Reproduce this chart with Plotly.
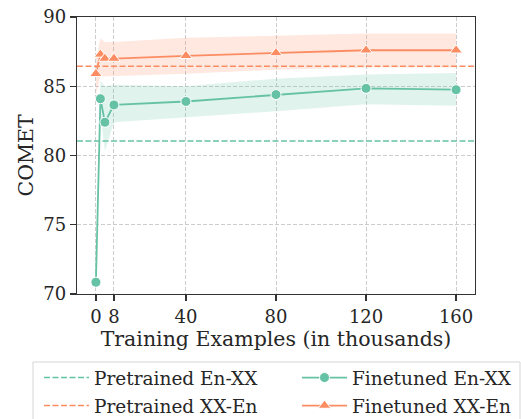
import plotly.graph_objects as go

# ---- data ----
train_k = [0, 2, 4, 8, 40, 80, 120, 160]
x_ticks = [0, 8, 40, 80, 120, 160]
y_ticks = [70, 75, 80, 85, 90]

en_xx_mean = [70.85, 84.1, 82.4, 83.65, 83.9, 84.4, 84.85, 84.75]
en_xx_lo = [70.6, 83.0, 80.3, 82.4, 82.75, 83.2, 83.7, 83.6]
en_xx_hi = [71.1, 85.4, 85.0, 85.1, 85.0, 85.55, 85.85, 85.95]

xx_en_mean = [85.9, 87.3, 87.0, 87.0, 87.2, 87.4, 87.6, 87.6]
xx_en_lo = [84.4, 85.7, 85.7, 85.75, 85.9, 86.2, 86.35, 86.35]
xx_en_hi = [87.0, 88.45, 88.2, 88.2, 88.5, 88.65, 88.8, 88.8]

pre_en_xx = 81.05
pre_xx_en = 86.45

GREEN = "#66c2a5"
ORANGE = "#fc8d62"
FONT = "DejaVu Serif"
TXT = "#262626"

fig = go.Figure()

# confidence bands
for lo, hi, col in [(en_xx_lo, en_xx_hi, "rgba(102,194,165,0.2)"),
                    (xx_en_lo, xx_en_hi, "rgba(252,141,98,0.2)")]:
    fig.add_trace(go.Scatter(
        x=train_k + train_k[::-1], y=hi + lo[::-1],
        fill="toself", fillcolor=col, line=dict(width=0),
        mode="lines", showlegend=False, hoverinfo="skip"))

fig.add_trace(go.Scatter(
    x=train_k, y=en_xx_mean, name="Finetuned En-XX", mode="lines+markers",
    line=dict(color=GREEN, width=1.8),
    marker=dict(symbol="circle", size=10, color=GREEN, line=dict(color="white", width=1)),
    legend="legend2"))
fig.add_trace(go.Scatter(
    x=train_k, y=xx_en_mean, name="Finetuned XX-En", mode="lines+markers",
    line=dict(color=ORANGE, width=1.8),
    marker=dict(symbol="triangle-up", size=11, color=ORANGE, line=dict(color="white", width=1)),
    legend="legend4"))

# pretrained horizontal lines (shapes spanning axes domain)
for val, col, nm, lg in [(pre_en_xx, GREEN, "Pretrained En-XX", "legend"),
                         (pre_xx_en, ORANGE, "Pretrained XX-En", "legend3")]:
    fig.add_shape(type="line", xref="x domain", yref="y", x0=0, x1=1, y0=val, y1=val,
                  line=dict(color=col, width=1.5, dash="6px,2.5px"),
                  showlegend=True, name=nm, legend=lg)

# legend frame
fig.add_shape(type="rect", xref="paper", yref="paper",
              x0=(33 - 77) / 398, x1=(520 - 77) / 398,
              y0=(294 - 362) / 277, y1=(294 - 430) / 277,
              line=dict(color="#d5d5d5", width=1), fillcolor="white", layer="above")

def leg(xpx, ypx):
    return dict(x=(xpx - 77) / 398, y=(294 - ypx) / 277, xanchor="left", yanchor="middle",
                bgcolor="rgba(0,0,0,0)", borderwidth=0, itemwidth=45,
                font=dict(family=FONT, size=18.5, color=TXT))

axis_common = dict(
    showline=True, mirror=True, linecolor="#333333", linewidth=1.25,
    ticks="outside", ticklen=6, tickwidth=1.25, tickcolor="#333333",
    showgrid=True, gridcolor="#cccccc", gridwidth=1, griddash="4px,2px",
    zeroline=False,
    tickfont=dict(family=FONT, size=18, color=TXT),
)

fig.update_layout(
    width=521, height=419,
    margin=dict(l=77, r=46, t=17, b=125, autoexpand=False),
    paper_bgcolor="white", plot_bgcolor="white",
    font=dict(family=FONT, size=18, color=TXT),
    xaxis=dict(range=[-8.4, 168.4], tickvals=x_ticks, **axis_common,
               title=dict(text="Training Examples (in thousands)", standoff=0,
                          font=dict(family=FONT, size=20.5, color=TXT))),
    yaxis=dict(range=[70, 90], tickvals=y_ticks, **axis_common,
               title=dict(text="COMET", standoff=4,
                          font=dict(family=FONT, size=20.5, color=TXT))),
    legend=leg(39, 378),
    legend3=leg(39, 406),
    legend2=leg(297, 378),
    legend4=leg(297, 406),
)

fig.write_html(
    "out.html",
    config={"staticPlot": True, "displayModeBar": False},
    post_script="document.body.style.margin='0';document.body.style.overflow='hidden';",
)
